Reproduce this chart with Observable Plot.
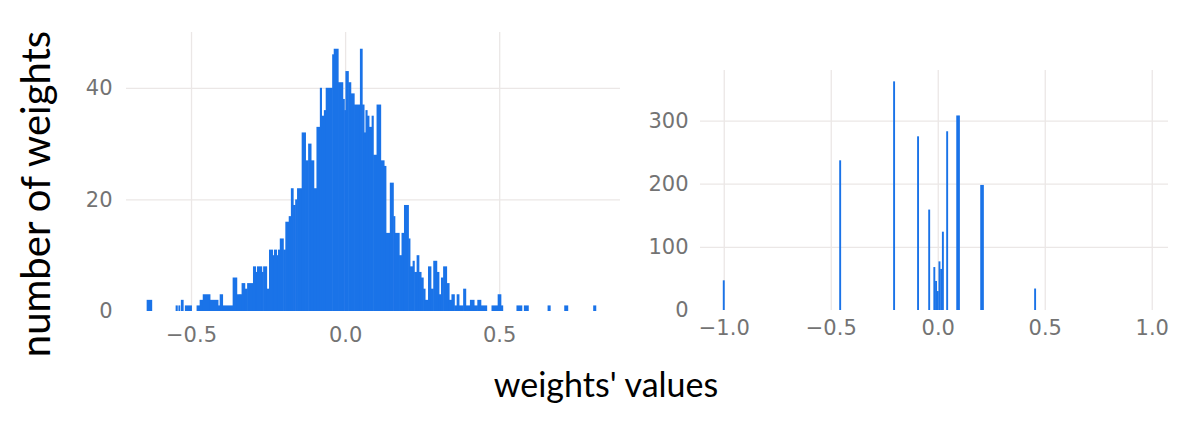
<!DOCTYPE html>
<html>
<head>
<meta charset="utf-8">
<script src="https://cdn.jsdelivr.net/npm/d3@7"></script>
<script src="https://cdn.jsdelivr.net/npm/@observablehq/plot@0.6"></script>
<style>
  html, body { margin: 0; padding: 0; background: #fff; }
  #wrap { position: relative; width: 1196px; height: 432px; overflow: hidden; background: #fff; }
  #left { position: absolute; left: 0; top: 0; }
  #right { position: absolute; left: 630px; top: 0; }
  #titles { position: absolute; left: 0; top: 0; pointer-events: none; }
</style>
</head>
<body>
<div id="wrap">
  <div id="left"></div>
  <div id="right"></div>
  <svg id="titles" width="1196" height="432"></svg>
</div>
<script>
// ---------- DATA ----------
// Left histogram: bin edges (weight value) and counts per interval
const leftEdges = [
  -0.643, -0.627, -0.549, -0.544, -0.540, -0.536, -0.532, -0.525, -0.519, -0.498,
  -0.481, -0.471, -0.461, -0.438, -0.412, -0.406, -0.397, -0.364, -0.351, -0.341,
  -0.335, -0.325, -0.317, -0.298, -0.290, -0.285, -0.270, -0.265, -0.254, -0.246,
  -0.235, -0.230, -0.222, -0.217, -0.211, -0.200, -0.193, -0.182, -0.175, -0.168,
  -0.161, -0.155, -0.140, -0.128, -0.119, -0.110, -0.101, -0.092, -0.081, -0.076,
  -0.068, -0.062, -0.041, -0.036, -0.022, -0.007, -0.002, 0.002, 0.011, 0.019,
  0.030, 0.049, 0.056, 0.062, 0.067, 0.072, 0.078, 0.087, 0.092, 0.103,
  0.116, 0.127, 0.133, 0.146, 0.157, 0.162, 0.176, 0.184, 0.192, 0.206,
  0.211, 0.220, 0.225, 0.233, 0.240, 0.247, 0.254, 0.260, 0.270, 0.279,
  0.287, 0.298, 0.305, 0.312, 0.319, 0.330, 0.338, 0.346, 0.355, 0.363,
  0.370, 0.384, 0.392, 0.406, 0.419, 0.430, 0.441, 0.460, 0.476, 0.496,
  0.506, 0.512, 0.557, 0.574, 0.581, 0.595, 0.658, 0.666, 0.712, 0.723,
  0.806, 0.814
];
const leftCounts = [
  2, 0, 1, 0, 1, 0, 2, 0, 1, 0,
  1, 2, 3, 2, 1, 3, 1, 6, 3, 3,
  5, 4, 5, 8, 7, 8, 7, 8, 4, 11,
  10, 11, 10, 11, 13, 11, 16, 17, 22, 19,
  20, 22, 32, 27, 30, 27, 22, 33, 40, 35,
  36, 40, 46, 47, 41, 38, 36, 43, 41, 39,
  37, 47, 37, 32, 36, 35, 33, 35, 28, 37,
  27, 26, 14, 23, 17, 14, 10, 14, 19, 13,
  8, 9, 7, 10, 7, 6, 4, 2, 8, 4,
  9, 7, 3, 6, 8, 5, 2, 3, 1, 3,
  1, 4, 1, 2, 1, 2, 1, 0, 1, 3,
  1, 0, 1, 0, 1, 0, 1, 0, 1, 0, 1
];
const leftYTicks = [0, 20, 40];
const leftXTicks = [-0.5, 0, 0.5];

// Right histogram (quantized weights): bin start and counts
const rightBinStart = [-1.004, -0.460, -0.208, -0.096, -0.044, -0.020, -0.012, -0.004, 0.004, 0.012, 0.020, 0.040, 0.087, 0.095, 0.199, 0.207, 0.451];
const rightCounts   = [47, 237, 362, 275, 159, 68, 46, 30, 77, 65, 124, 283, 308, 308, 198, 198, 34];
const rightBinWidth = 0.008;
const rightYTicks = [0, 100, 200, 300];
const rightXTicks = [-1, -0.5, 0, 0.5, 1];

const yTitle = "number of weights";
const xTitle = "weights' values";

// ---------- BUILD ----------
if (leftCounts.length !== leftEdges.length - 1) console.error("left data length mismatch");
const leftData = leftCounts.map((c, i) => ({x1: leftEdges[i], x2: leftEdges[i + 1], count: c})).filter(d => d.count > 0);
const rightData = rightBinStart.map((x, i) => ({x1: x, x2: x + rightBinWidth, count: rightCounts[i]}));

const barColor = "#1a73e8";
const gridColor = "#ebe7e6";
const tickColor = "#737373";
const fmt = d3.format(".1f");
const baseStyle = {fontFamily: "'DejaVu Sans', sans-serif", fontSize: "21px", color: tickColor, background: "transparent", overflow: "visible"};

const leftPlot = Plot.plot({
  width: 630, height: 350,
  marginLeft: 126, marginRight: 10, marginTop: 32, marginBottom: 39,
  x: {domain: [-0.711, 0.892]},
  y: {domain: [0, 50]},
  style: baseStyle,
  marks: [
    Plot.gridX({ticks: leftXTicks, stroke: gridColor, strokeOpacity: 1, strokeWidth: 1.3}),
    Plot.gridY({ticks: leftYTicks.filter(t => t > 0), stroke: gridColor, strokeOpacity: 1, strokeWidth: 1.3}),
    Plot.rect(leftData, {x1: "x1", x2: "x2", y1: 0, y2: "count", fill: barColor, insetLeft: -0.3, insetRight: -0.3}),
    Plot.axisX({ticks: leftXTicks, tickFormat: fmt, tickSize: 0, tickPadding: 16, label: null}),
    Plot.axisY({ticks: leftYTicks, tickSize: 0, tickPadding: 14, label: null})
  ]
});
document.getElementById("left").appendChild(leftPlot);

const rightPlot = Plot.plot({
  width: 566, height: 350,
  marginLeft: 70, marginRight: 28, marginTop: 70, marginBottom: 40,
  x: {domain: [-1.111, 1.076]},
  y: {domain: [0, 380]},
  style: baseStyle,
  marks: [
    Plot.gridX({ticks: rightXTicks, stroke: gridColor, strokeOpacity: 1, strokeWidth: 1.3}),
    Plot.gridY({ticks: rightYTicks.filter(t => t > 0), stroke: gridColor, strokeOpacity: 1, strokeWidth: 1.3}),
    Plot.rect(rightData, {x1: "x1", x2: "x2", y1: 0, y2: "count", fill: barColor, insetLeft: -0.1, insetRight: -0.1}),
    Plot.axisX({ticks: rightXTicks, tickFormat: fmt, tickSize: 0, tickPadding: 10, label: null}),
    Plot.axisY({ticks: rightYTicks, tickSize: 0, tickPadding: 12, label: null})
  ]
});
document.getElementById("right").appendChild(rightPlot);

// axis titles
const t = d3.select("#titles");
t.append("text")
  .attr("transform", "translate(50,194) rotate(-90)")
  .attr("text-anchor", "middle")
  .attr("font-family", "Lato, 'Open Sans', sans-serif")
  .attr("font-size", 40)
  .attr("fill", "#000")
  .text(yTitle);
t.append("text")
  .attr("x", 606).attr("y", 397)
  .attr("text-anchor", "middle")
  .attr("font-family", "Lato, 'Open Sans', sans-serif")
  .attr("font-size", 34)
  .attr("fill", "#000")
  .text(xTitle);
</script>
</body>
</html>
